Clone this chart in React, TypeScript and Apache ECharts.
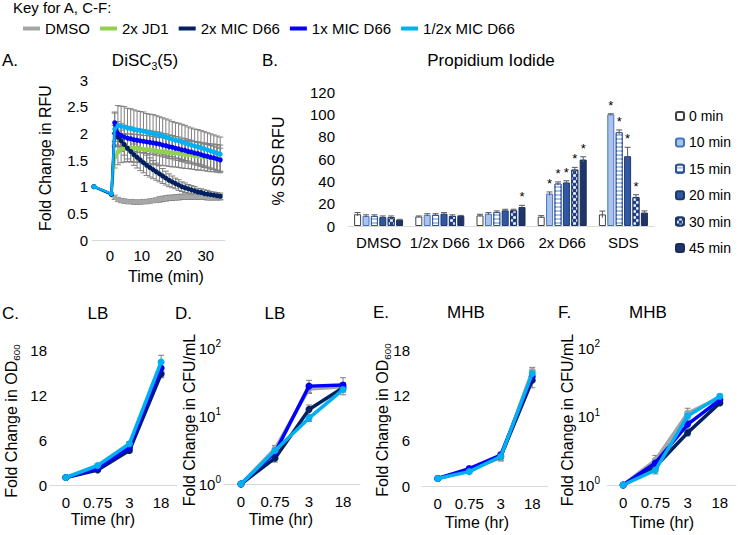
import React, { useEffect, useRef } from 'react';
import * as echarts from 'echarts';

const FONT = "'Liberation Sans', Arial, Helvetica, sans-serif";
const TXT = '#000000';
const AXIS = '#d9d9d9';
const ERR = '#7f7f7f';

// ---------- Key (A, C-F) ----------
const keyNames = ['DMSO', '2x JD1', '2x MIC D66', '1x MIC D66', '1/2x MIC D66'];
const keyColors = ['#a6a6a6', '#92d050', '#002060', '#0000ff', '#00b0f0'];

// ---------- Panel A: DiSC3(5) ----------
const aTicks = [0, 10, 20, 30];
const timeA = [-5, 0.5, 1.5, 2.5, 3.5, 4.5, 5.5, 6.5, 7.5, 8.5, 9.5, 10.5, 11.5, 12.5, 13.5, 14.5, 15.5, 16.5, 17.5, 18.5, 19.5, 20.5, 21.5, 22.5, 23.5, 24.5, 25.5, 26.5, 27.5, 28.5, 29.5, 30.5, 31.5, 32.5, 33.5, 34.5];
const aDMSO = [1.0, 0.86, 0.80, 0.76, 0.74, 0.73, 0.72, 0.72, 0.71, 0.71, 0.71, 0.72, 0.72, 0.73, 0.74, 0.75, 0.76, 0.77, 0.78, 0.79, 0.79, 0.80, 0.80, 0.81, 0.81, 0.81, 0.81, 0.81, 0.81, 0.81, 0.81, 0.80, 0.80, 0.80, 0.80, 0.80];
const aJD1 = [1.0, 0.84, 1.55, 1.65, 1.70, 1.72, 1.73, 1.73, 1.72, 1.72, 1.71, 1.70, 1.70, 1.69, 1.68, 1.67, 1.66, 1.66, 1.65, 1.64, 1.63, 1.63, 1.62, 1.61, 1.60, 1.60, 1.59, 1.58, 1.57, 1.57, 1.56, 1.55, 1.54, 1.54, 1.53, 1.52];
const aMIC2 = [1.0, 0.86, 2.00, 1.93, 1.86, 1.79, 1.72, 1.66, 1.60, 1.55, 1.50, 1.45, 1.40, 1.36, 1.32, 1.28, 1.24, 1.20, 1.16, 1.12, 1.09, 1.06, 1.03, 1.00, 0.98, 0.96, 0.94, 0.92, 0.90, 0.89, 0.87, 0.86, 0.85, 0.84, 0.83, 0.82];
const aMIC1 = [1.0, 0.86, 2.20, 2.00, 1.96, 1.93, 1.91, 1.90, 1.88, 1.87, 1.86, 1.85, 1.84, 1.83, 1.82, 1.81, 1.80, 1.78, 1.77, 1.75, 1.74, 1.72, 1.71, 1.69, 1.68, 1.66, 1.65, 1.63, 1.62, 1.60, 1.58, 1.57, 1.55, 1.54, 1.52, 1.50];
const aMICh = [1.0, 0.87, 2.08, 2.14, 2.13, 2.12, 2.10, 2.09, 2.07, 2.06, 2.05, 2.04, 2.02, 2.01, 2.00, 1.98, 1.97, 1.95, 1.93, 1.91, 1.89, 1.87, 1.86, 1.84, 1.82, 1.80, 1.78, 1.76, 1.75, 1.73, 1.71, 1.69, 1.67, 1.65, 1.63, 1.61];
const aErrDMSO = [0, 0, 0.04, 0.04, 0.04, 0.04, 0.04, 0.04, 0.04, 0.04, 0.04, 0.04, 0.04, 0.04, 0.04, 0.04, 0.05, 0.05, 0.05, 0.05, 0.05, 0.05, 0.05, 0.05, 0.05, 0.05, 0.05, 0.05, 0.05, 0.05, 0.05, 0.05, 0.05, 0.05, 0.05, 0.05];
const aErrJD1 = [0, 0, 0.20, 0.24, 0.25, 0.26, 0.26, 0.26, 0.26, 0.26, 0.26, 0.26, 0.26, 0.26, 0.26, 0.26, 0.26, 0.26, 0.26, 0.26, 0.26, 0.26, 0.26, 0.26, 0.26, 0.26, 0.26, 0.26, 0.26, 0.26, 0.26, 0.26, 0.26, 0.26, 0.26, 0.26];
const aErrMIC2 = [0, 0, 0.15, 0.18, 0.20, 0.20, 0.20, 0.20, 0.20, 0.20, 0.20, 0.19, 0.19, 0.18, 0.17, 0.16, 0.15, 0.14, 0.13, 0.12, 0.11, 0.10, 0.10, 0.09, 0.09, 0.08, 0.08, 0.08, 0.07, 0.07, 0.07, 0.07, 0.06, 0.06, 0.06, 0.06];
const aErrMIC1 = [0, 0, 0.20, 0.22, 0.22, 0.22, 0.22, 0.22, 0.22, 0.22, 0.22, 0.22, 0.22, 0.22, 0.22, 0.22, 0.22, 0.22, 0.22, 0.22, 0.22, 0.22, 0.22, 0.22, 0.22, 0.22, 0.22, 0.22, 0.22, 0.22, 0.22, 0.22, 0.22, 0.22, 0.22, 0.22];
const aErrMICh = [0, 0, 0.30, 0.38, 0.38, 0.38, 0.37, 0.37, 0.37, 0.36, 0.36, 0.36, 0.35, 0.35, 0.35, 0.35, 0.34, 0.34, 0.34, 0.34, 0.33, 0.33, 0.33, 0.33, 0.33, 0.32, 0.32, 0.32, 0.32, 0.32, 0.32, 0.32, 0.32, 0.32, 0.32, 0.32];

// ---------- Panel B: Propidium Iodide ----------
const bCategories = ['DMSO', '1/2x D66', '1x D66', '2x D66', 'SDS'];
const bTimes = ['0 min', '10 min', '15 min', '20 min', '30 min', '45 min'];
const b0 = [10.5, 8.5, 9.5, 8.3, 10.4];
const b10 = [9, 10, 11, 29, 100];
const b15 = [9, 10, 12.5, 38, 84];
const b20 = [8, 11, 14, 39, 62.5];
const b30 = [8, 9, 14, 50.5, 26];
const b45 = [5.5, 9, 17, 59.5, 12];
const bErr0 = [1.5, 0.5, 1, 1, 3];
const bErr10 = [1, 1, 1, 1.5, 0.5];
const bErr15 = [1, 1, 1, 1.5, 2];
const bErr20 = [1, 1, 1, 1.5, 8];
const bErr30 = [1, 1, 1, 2, 2];
const bErr45 = [0.5, 0.5, 1.5, 2.5, 1.5];
const bSig0 = [0, 0, 0, 0, 0];
const bSig10 = [0, 0, 0, 1, 1];
const bSig15 = [0, 0, 0, 1, 1];
const bSig20 = [0, 0, 0, 1, 1];
const bSig30 = [0, 0, 0, 1, 1];
const bSig45 = [0, 0, 1, 1, 0];

// ---------- Panels C-F ----------
const cfTimes = ['0', '0.75', '3', '18'];
// C: LB OD600
const cDMSO = [1, 2.3, 5.0, 15.0];
const cMIC2 = [1, 2.0, 4.6, 14.8];
const cMIC1 = [1, 2.2, 5.0, 15.6];
const cMICh = [1, 2.6, 5.5, 16.4];
const cErrDMSO = [0.05, 0.2, 0.3, 0.6];
const cErrMIC2 = [0.05, 0.2, 0.3, 0.5];
const cErrMIC1 = [0.05, 0.15, 0.3, 0.6];
const cErrMICh = [0.05, 0.2, 0.3, 0.9];
// D: LB CFU/mL
const dDMSO = [1, 3.3, 25, 27];
const dMIC2 = [1, 2.4, 12.5, 26];
const dMIC1 = [1, 2.9, 27.5, 28.5];
const dMICh = [1, 3.1, 9.3, 24.5];
const dErrDMSO = [0.02, 0.4, 3, 4];
const dErrMIC2 = [0.02, 0.3, 2, 3];
const dErrMIC1 = [0.02, 0.4, 6, 8];
const dErrMICh = [0.02, 0.3, 1, 2];
// E: MHB OD600
const eDMSO = [1, 2.1, 3.8, 15.2];
const eMIC2 = [1, 2.1, 3.9, 14.0];
const eMIC1 = [1, 2.3, 4.1, 14.5];
const eMICh = [1, 1.9, 3.9, 14.9];
const eErrDMSO = [0.05, 0.2, 0.4, 0.5];
const eErrMIC2 = [0.05, 0.15, 0.6, 1.0];
const eErrMIC1 = [0.05, 0.2, 0.3, 0.6];
const eErrMICh = [0.05, 0.15, 0.3, 0.5];
// F: MHB CFU/mL
const fDMSO = [1, 2.3, 11.2, 18.9];
const fMIC2 = [1, 1.85, 5.8, 15.8];
const fMIC1 = [1, 2.1, 7.7, 17.5];
const fMICh = [1, 1.65, 10.2, 19.7];
const fErrDMSO = [0.02, 0.4, 2, 1.5];
const fErrMIC2 = [0.02, 0.2, 0.6, 1];
const fErrMIC1 = [0.02, 0.3, 1, 1];
const fErrMICh = [0.02, 0.2, 1.5, 1.5];

// ---------- layout constants ----------
const B_BAR_W = 7;
const B_STRIDE = 8.4;

function errSeries(xi: number, yi: number, data: number[][], cap = 3) {
  return {
    type: 'custom',
    xAxisIndex: xi,
    yAxisIndex: yi,
    silent: true,
    z: 1,
    encode: { x: 0, y: 1 },
    data,
    renderItem: (_p: any, api: any) => {
      const x = api.value(0);
      const y = api.value(1);
      const e = api.value(2);
      if (!e) return null;
      const t = api.coord([x, y + e]);
      const b = api.coord([x, y - e]);
      const style = { stroke: ERR, lineWidth: 1 };
      return {
        type: 'group',
        children: [
          { type: 'line', shape: { x1: t[0], y1: t[1], x2: b[0], y2: b[1] }, style },
          { type: 'line', shape: { x1: t[0] - cap, y1: t[1], x2: t[0] + cap, y2: t[1] }, style },
          { type: 'line', shape: { x1: b[0] - cap, y1: b[1], x2: b[0] + cap, y2: b[1] }, style },
        ],
      };
    },
  };
}

function txt(x: number, y: number, text: string, size: number, extra: any = {}) {
  return {
    type: 'text',
    x,
    y,
    rotation: extra.rotation || 0,
    silent: true,
    style: {
      text,
      fill: TXT,
      fontSize: size,
      fontFamily: FONT,
      align: extra.align || 'center',
      verticalAlign: 'middle',
      textAlign: extra.align || 'center',
      textVerticalAlign: 'middle',
      rich: extra.rich,
    },
  };
}

const subRich = (size: number) => ({
  a: { fontSize: size, lineHeight: size, fontFamily: FONT, fill: TXT, color: TXT, verticalAlign: 'top' },
  sub: { fontSize: size * 0.62, lineHeight: size * 0.62, fontFamily: FONT, fill: TXT, color: TXT, verticalAlign: 'top', padding: [size * 0.5, 0, 0, 0] },
});

export default function App() {
  const ref = useRef<HTMLDivElement>(null);

  useEffect(() => {
    if (!ref.current) return;
    const chart = echarts.init(ref.current, undefined, { renderer: 'svg' });

    const tickLabel = { color: TXT, fontSize: 15, fontFamily: FONT };
    const noSplit = { show: false };
    const noTick = { show: false };
    const axisLineX = { show: true, lineStyle: { color: AXIS, width: 1 } };

    const logLabel = (margin: number) => ({
      ...tickLabel,
      margin,
      formatter: (v: number) => '{b|10}{sup|' + Math.round(Math.log10(v)) + '}',
      rich: {
        b: { fontSize: 15, lineHeight: 15, fontFamily: FONT, color: TXT, verticalAlign: 'bottom' },
        sup: { fontSize: 10, lineHeight: 10, fontFamily: FONT, color: TXT, verticalAlign: 'bottom', padding: [0, 0, 7, 0] },
      },
    });

    const grids = [
      { left: 92, top: 80, width: 133, height: 160 },
      { left: 348, top: 92, width: 306, height: 134 },
      { left: 50, top: 350, width: 127, height: 135 },
      { left: 224, top: 348, width: 136, height: 136 },
      { left: 422, top: 350, width: 126, height: 136 },
      { left: 607, top: 348, width: 129, height: 137 },
    ].map((g) => ({ ...g, containLabel: false, outerBoundsMode: 'none' }));

    const catX = (gi: number) => ({
      gridIndex: gi,
      type: 'category',
      data: cfTimes,
      boundaryGap: true,
      axisTick: noTick,
      splitLine: noSplit,
      axisLine: axisLineX,
      axisLabel: { ...tickLabel, margin: 10, interval: 0 },
    });

    const xAxis: any[] = [
      {
        gridIndex: 0,
        type: 'value',
        min: -5.6,
        max: 36,
        axisTick: noTick,
        splitLine: noSplit,
        axisLine: axisLineX,
        axisLabel: { ...tickLabel, margin: 8, customValues: aTicks },
      },
      {
        gridIndex: 1,
        type: 'category',
        data: bCategories,
        axisTick: noTick,
        splitLine: noSplit,
        axisLine: axisLineX,
        axisLabel: { ...tickLabel, margin: 9, interval: 0 },
      },
      catX(2),
      catX(3),
      catX(4),
      catX(5),
    ];

    const linY = (gi: number, max: number, interval: number, margin: number) => ({
      gridIndex: gi,
      type: 'value',
      min: 0,
      max,
      interval,
      axisLine: { show: false },
      axisTick: noTick,
      splitLine: noSplit,
      axisLabel: { ...tickLabel, margin },
    });
    const logY = (gi: number, margin: number) => ({
      gridIndex: gi,
      type: 'log',
      logBase: 10,
      min: 1,
      max: 100,
      axisLine: { show: false },
      axisTick: noTick,
      splitLine: noSplit,
      minorSplitLine: { show: false },
      axisLabel: logLabel(margin),
    });

    const yAxis: any[] = [
      linY(0, 3, 0.5, 4),
      linY(1, 120, 20, 13),
      linY(2, 18, 6, 3),
      logY(3, 3),
      linY(4, 18, 6, 12),
      logY(5, 7),
    ];

    const series: any[] = [];

    // Panel A
    const aVals = [aDMSO, aJD1, aMIC2, aMIC1, aMICh];
    const aErrs = [aErrDMSO, aErrJD1, aErrMIC2, aErrMIC1, aErrMICh];
    aVals.forEach((vals, k) => {
      series.push(errSeries(0, 0, timeA.map((t, i) => [t, vals[i], aErrs[k][i]]), 3));
    });
    aVals.forEach((vals, k) => {
      series.push({
        type: 'line',
        name: keyNames[k],
        xAxisIndex: 0,
        yAxisIndex: 0,
        z: 2 + k,
        data: timeA.map((t, i) => [t, vals[i]]),
        symbol: 'circle',
        symbolSize: 5,
        showSymbol: true,
        lineStyle: { width: 2.5, color: keyColors[k] },
        itemStyle: { color: keyColors[k] },
      });
    });

    // Panel B
    const bVals = [b0, b10, b15, b20, b30, b45];
    const bErrs = [bErr0, bErr10, bErr15, bErr20, bErr30, bErr45];
    const bSigs = [bSig0, bSig10, bSig15, bSig20, bSig30, bSig45];
    const bStyles: any[] = [
      { color: '#ffffff', borderColor: '#404040', borderWidth: 1 },
      { color: '#a9c3ea', borderColor: '#4472c4', borderWidth: 1 },
      {
        color: '#a9c3ea', borderColor: '#2f5597', borderWidth: 1,
        decal: { symbol: 'rect', symbolSize: 1, dashArrayX: [20, 0], dashArrayY: [1.3, 1.7], rotation: 0, color: '#ffffff' },
      },
      { color: '#2e58a6', borderColor: '#1f3864', borderWidth: 1 },
      {
        color: '#203f8f', borderColor: '#1f3864', borderWidth: 1,
        decal: { symbol: 'rect', symbolSize: 0.9, dashArrayX: [[2.5, 2.5], [0, 2.5, 2.5, 0]], dashArrayY: [2.5, 0], rotation: 0, color: '#ffffff' },
      },
      { color: '#1f3468', borderColor: '#1a2c58', borderWidth: 1 },
    ];
    bVals.forEach((vals, ti) => {
      series.push({
        type: 'bar',
        name: bTimes[ti],
        xAxisIndex: 1,
        yAxisIndex: 1,
        barWidth: B_BAR_W,
        barGap: '20%',
        data: vals,
        itemStyle: bStyles[ti],
        z: 2,
      });
    });
    const bErrData: number[][] = [];
    const bStarData: number[][] = [];
    bVals.forEach((vals, ti) => {
      vals.forEach((v, ci) => {
        bErrData.push([ci, ti, v, bErrs[ti][ci]]);
        if (bSigs[ti][ci]) bStarData.push([ci, ti, v + bErrs[ti][ci]]);
      });
    });
    series.push({
      type: 'custom',
      xAxisIndex: 1,
      yAxisIndex: 1,
      silent: true,
      z: 5,
      encode: { x: 0, y: 2 },
      data: bErrData,
      renderItem: (_p: any, api: any) => {
        const ci = api.value(0);
        const ti = api.value(1);
        const v = api.value(2);
        const e = api.value(3);
        if (!e) return null;
        const t = api.coord([ci, v + e]);
        const b = api.coord([ci, Math.max(0, v - e)]);
        const x = t[0] + (ti - 2.5) * B_STRIDE;
        const style = { stroke: '#595959', lineWidth: 1 };
        return {
          type: 'group',
          children: [
            { type: 'line', shape: { x1: x, y1: t[1], x2: x, y2: b[1] }, style },
            { type: 'line', shape: { x1: x - 3, y1: t[1], x2: x + 3, y2: t[1] }, style },
          ],
        };
      },
    });
    series.push({
      type: 'custom',
      xAxisIndex: 1,
      yAxisIndex: 1,
      silent: true,
      z: 6,
      encode: { x: 0, y: 2 },
      data: bStarData,
      renderItem: (_p: any, api: any) => {
        const ci = api.value(0);
        const ti = api.value(1);
        const top = api.value(2);
        const p = api.coord([ci, top]);
        return {
          type: 'text',
          x: p[0] + (ti - 2.5) * B_STRIDE,
          y: p[1] - 2,
          style: {
            text: '*',
            fill: TXT,
            fontSize: 13,
            fontFamily: FONT,
            align: 'center',
            verticalAlign: 'bottom',
            textAlign: 'center',
            textVerticalAlign: 'bottom',
          },
        };
      },
    });

    // Panels C-F
    const cfIdx = [0, 2, 3, 4];
    const panels = [
      { gi: 2, vals: [cDMSO, cMIC2, cMIC1, cMICh], errs: [cErrDMSO, cErrMIC2, cErrMIC1, cErrMICh] },
      { gi: 3, vals: [dDMSO, dMIC2, dMIC1, dMICh], errs: [dErrDMSO, dErrMIC2, dErrMIC1, dErrMICh] },
      { gi: 4, vals: [eDMSO, eMIC2, eMIC1, eMICh], errs: [eErrDMSO, eErrMIC2, eErrMIC1, eErrMICh] },
      { gi: 5, vals: [fDMSO, fMIC2, fMIC1, fMICh], errs: [fErrDMSO, fErrMIC2, fErrMIC1, fErrMICh] },
    ];
    panels.forEach((p) => {
      p.vals.forEach((vals, k) => {
        series.push(errSeries(p.gi, p.gi, vals.map((v, i) => [i, v, p.errs[k][i]]), 3));
      });
      p.vals.forEach((vals, k) => {
        const c = keyColors[cfIdx[k]];
        series.push({
          type: 'line',
          name: keyNames[cfIdx[k]],
          xAxisIndex: p.gi,
          yAxisIndex: p.gi,
          z: 2 + k,
          data: vals,
          symbol: 'circle',
          symbolSize: 7,
          showSymbol: true,
          lineStyle: { width: 3.5, color: c },
          itemStyle: { color: c },
        });
      });
    });

    const graphic: any[] = [
      txt(13, 7, 'Key for A, C-F:', 15, { align: 'left' }),
      txt(2, 60, 'A.', 17, { align: 'left' }),
      txt(145, 60, '{a|DiSC}{sub|3}{a|(5)}', 17, { rich: subRich(17) }),
      txt(262, 60, 'B.', 17, { align: 'left' }),
      txt(491, 60, 'Propidium Iodide', 17),
      txt(45, 158, 'Fold Change in RFU', 16, { rotation: Math.PI / 2 }),
      txt(278, 161, '% SDS RFU', 16, { rotation: Math.PI / 2 }),
      txt(166, 276, 'Time (min)', 16),
      txt(2, 313, 'C.', 17, { align: 'left' }),
      txt(98, 313, 'LB', 17),
      txt(175, 313, 'D.', 17, { align: 'left' }),
      txt(275, 313, 'LB', 17),
      txt(373, 312, 'E.', 17, { align: 'left' }),
      txt(466, 312, 'MHB', 17),
      txt(558, 312, 'F.', 17, { align: 'left' }),
      txt(648, 312, 'MHB', 17),
      txt(11, 421, '{a|Fold Change in OD}{sub|600}', 16, { rotation: Math.PI / 2, rich: subRich(16) }),
      txt(189, 420, 'Fold Change in CFU/mL', 16, { rotation: Math.PI / 2 }),
      txt(382, 420, '{a|Fold Change in OD}{sub|600}', 16, { rotation: Math.PI / 2, rich: subRich(16) }),
      txt(567, 420, 'Fold Change in CFU/mL', 16, { rotation: Math.PI / 2 }),
      txt(103, 519, 'Time (hr)', 16),
      txt(281, 519, 'Time (hr)', 16),
      txt(477, 522, 'Time (hr)', 16),
      txt(662, 522, 'Time (hr)', 16),
    ];

    chart.setOption({
      animation: false,
      backgroundColor: '#ffffff',
      textStyle: { fontFamily: FONT },
      grid: grids,
      xAxis,
      yAxis,
      legend: [
        {
          data: keyNames,
          left: 18,
          top: 16,
          orient: 'horizontal',
          icon: 'rect',
          itemWidth: 17,
          itemHeight: 4,
          itemGap: 10,
          selectedMode: false,
          textStyle: { color: TXT, fontSize: 15, fontFamily: FONT },
        },
        {
          data: bTimes,
          left: 670,
          top: 103,
          orient: 'vertical',
          itemWidth: 8,
          itemHeight: 8,
          itemGap: 10.4,
          selectedMode: false,
          textStyle: { color: TXT, fontSize: 14, fontFamily: FONT, lineHeight: 16 },
        },
      ],
      series,
      graphic,
    });

    return () => chart.dispose();
  }, []);

  return (
    <div
      ref={ref}
      style={{ position: 'absolute', left: 0, top: 0, width: 738, height: 535, background: '#fff' }}
    />
  );
}
